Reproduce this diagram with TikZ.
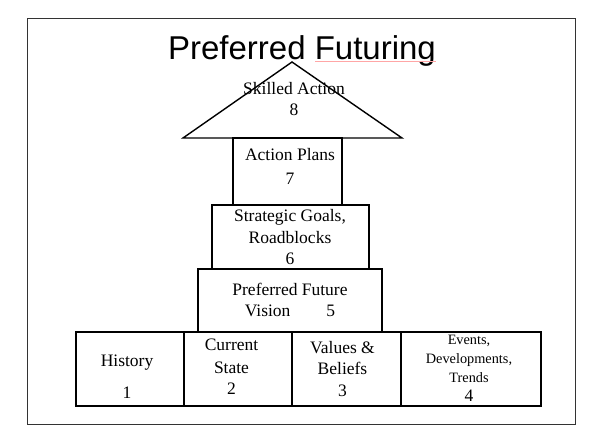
\documentclass[tikz,border=0pt]{standalone}
\usepackage{fontspec}
\setmainfont{Liberation Serif}
\newfontfamily\titlefont{Liberation Sans}
\usetikzlibrary{positioning}
\tikzstyle{block} = [rectangle, draw, line width=1.4pt, inner sep=0pt, outer sep=0pt]
\tikzstyle{txt} = [align=center, inner sep=0pt, font=\fontsize{17.5}{21.5}\selectfont]
\tikzstyle{small} = [align=center, inner sep=0pt, font=\fontsize{14.3}{18.8}\selectfont]

\begin{document}
\begin{tikzpicture}[x=1pt, y=-1pt, node distance = 0pt]
    \useasboundingbox (0,0) rectangle (596,446);
    \draw [line width=0.9pt, black!80] (27,18) rectangle (575,424);
    \node [anchor=base, inner sep=0pt, font=\titlefont\fontsize{33}{40}\selectfont] (title) at (302,60) {Preferred Futuring};
    \draw [red!35, line width=0.5pt] (315,61.5) -- (436,61.5);
    % bottom row
    \node [block, minimum width=108pt, minimum height=74pt] (history) at (130,369) {};
    \node [block, minimum width=108pt, minimum height=74pt, right=of history] (current) {};
    \node [block, minimum width=109pt, minimum height=74pt, right=of current] (values) {};
    \node [block, minimum width=140pt, minimum height=74pt, right=of values] (events) {};
    % stack
    \node [block, minimum width=184pt, minimum height=63pt] (vision) at (290,300.5) {};
    \node [block, minimum width=157pt, minimum height=64pt] (strategic) at (290.5,237) {};
    \node [block, minimum width=109pt, minimum height=67pt] (plans) at (287.5,171.5) {};
    \coordinate (apex) at (292,62);
    \coordinate (baseL) at (183,138);
    \coordinate (baseR) at (402,138);
    \draw [line width=1.4pt, line join=miter] (baseL) -- (apex) -- (baseR) -- cycle;
    % texts
    \node [txt] (t8) at (294,99) {Skilled Action\\8};
    \node [txt] (t7) at (290,166) {Action Plans\\[2.5pt]7};
    \node [txt] (t6) at (290,237.5) {Strategic Goals,\\Roadblocks\\6};
    \node [txt] (t5) at (290,300) {Preferred Future\\Vision\hspace{36pt}5};
    \node [txt] (t1) at (127,376.5) {History\\[10.5pt]1};
    \node [txt] (t2) at (231.5,366.5) {Current\\[1.5pt]State\\2};
    \node [txt] (t3) at (342.5,369) {Values \&\\Beliefs\\3};
    \node [small] (t4) at (469,368.5) {Events,\\Developments,\\Trends\\{\fontsize{17.5}{21.5}\selectfont 4}};
\end{tikzpicture}
\end{document}
